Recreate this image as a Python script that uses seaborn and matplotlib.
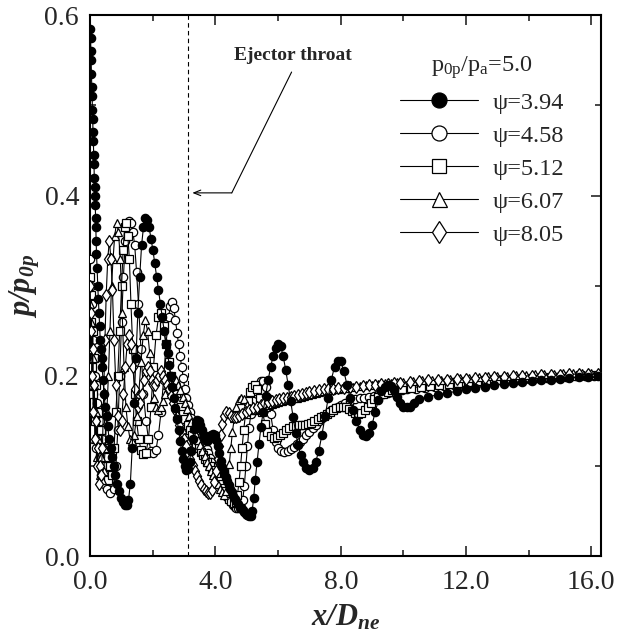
import matplotlib
matplotlib.use('Agg')
import matplotlib.pyplot as plt
from matplotlib.ticker import MultipleLocator, FormatStrFormatter
import seaborn as sns

# ---- datos (x/Dne, p/p0p) ----
labels = ['ψ=3.94', 'ψ=4.58', 'ψ=5.12', 'ψ=6.07', 'ψ=8.05']
legend_title = r'$\mathregular{p_{0p}/p_a}$=5.0'
throat_x = 3.13

x_394 = [0.00, 0.01, 0.02, 0.03, 0.04, 0.05, 0.06, 0.07, 0.08, 0.09, 0.10, 0.11, 0.12, 0.13, 0.14, 0.15,
         0.16, 0.17, 0.18, 0.19, 0.20, 0.22, 0.24, 0.26, 0.28, 0.30, 0.32, 0.34, 0.36, 0.38, 0.41, 0.44,
         0.48, 0.52, 0.56, 0.60, 0.65, 0.70, 0.75, 0.80, 0.86, 0.92, 0.98, 1.04, 1.10, 1.16, 1.22, 1.28,
         1.34, 1.40, 1.46, 1.52, 1.58, 1.64, 1.70, 1.76, 1.82, 1.88, 1.94, 2.00, 2.06, 2.12, 2.18, 2.24,
         2.30, 2.36, 2.42,
         2.47, 2.52, 2.57, 2.62, 2.67, 2.72, 2.77, 2.82, 2.87, 2.92, 2.97, 3.02, 3.07, 3.12, 3.17, 3.22,
         3.27, 3.32, 3.37, 3.42, 3.47, 3.52, 3.57, 3.62, 3.67, 3.72, 3.77, 3.82, 3.87, 3.92, 3.97, 4.02,
         4.07, 4.12, 4.17, 4.22, 4.27, 4.32, 4.37, 4.42, 4.47, 4.52, 4.57, 4.62, 4.67, 4.72, 4.77, 4.82,
         4.87, 4.92, 4.97, 5.02, 5.07, 5.12,
         5.17, 5.22, 5.27, 5.33, 5.39, 5.45, 5.52, 5.60, 5.68, 5.76, 5.84, 5.92, 6.00, 6.08, 6.16, 6.24,
         6.32, 6.40, 6.48, 6.56, 6.64, 6.72, 6.80, 6.90, 7.00, 7.10, 7.20, 7.30, 7.40, 7.50, 7.60, 7.70,
         7.80, 7.90, 8.00, 8.10, 8.20, 8.30, 8.40, 8.50, 8.60, 8.70, 8.80, 8.90, 9.00, 9.10, 9.20, 9.30,
         9.40, 9.50, 9.60, 9.70, 9.80, 9.90, 10.00, 10.10, 10.20, 10.35, 10.50,
         10.80, 11.10, 11.40, 11.70, 12.00, 12.30, 12.60, 12.90, 13.20, 13.50, 13.80, 14.10, 14.40, 14.70,
         15.00, 15.30, 15.60, 15.90, 16.20]
y_394 = [.585, .575, .56, .55, .535, .52, .51, .495, .485, .47, .46, .445, .435, .42, .41, .40,
         .39, .375, .365, .35, .335, .32, .30, .285, .27, .255, .24, .23, .22, .21, .195, .18,
         .165, .155, .145, .13, .12, .11, .10, .09, .08, .072, .065, .06, .057, .057, .062, .08,
         .12, .17, .22, .27, .31, .345, .365, .375, .373, .365, .352, .34, .325, .31, .295, .28,
         .265, .25, .235,
         .225, .212, .2, .188, .176, .164, .152, .14, .128, .117, .108, .1, .096, .097, .105, .117,
         .13, .141, .148, .151, .15, .146, .14, .134, .13, .128, .129, .132, .135, .136, .134, .129,
         .122, .114, .106, .099, .093, .088, .083, .079, .075, .071, .067, .064, .061, .058, .055, .053,
         .051, .049, .047, .046, .045, .045,
         .05, .065, .085, .105, .125, .143, .16, .178, .195, .21, .222, .231, .235, .233, .222, .207,
         .19, .172, .154, .137, .123, .112, .104, .098, .096, .098, .105, .117, .135, .155, .176, .196,
         .21, .217, .216, .205, .19, .175, .162, .15, .14, .134, .133, .137, .146, .16, .173, .183,
         .188, .19, .189, .184, .177, .17, .166, .165, .166, .17, .174,
         .177, .179, .181, .183, .185, .187, .188, .19, .191, .192, .193, .194, .195, .196,
         .197, .198, .199, .199, .2]

x_458 = [0.00, 0.02, 0.04, 0.06, 0.08, 0.10, 0.13, 0.16, 0.19, 0.22, 0.26, 0.30, 0.34, 0.38, 0.43, 0.48,
         0.53, 0.58, 0.64, 0.70, 0.76, 0.82, 0.88, 0.94, 1.00, 1.06, 1.12, 1.18, 1.24, 1.30, 1.36, 1.42,
         1.48, 1.54, 1.62, 1.70, 1.78, 1.86, 1.94, 2.02, 2.10, 2.18, 2.26, 2.34, 2.42, 2.50, 2.56, 2.62,
         2.67, 2.72, 2.77, 2.82, 2.87, 2.92, 2.97, 3.02,
         3.07, 3.12, 3.17, 3.22, 3.27, 3.32, 3.37, 3.42, 3.47, 3.52, 3.57, 3.62, 3.67, 3.72, 3.77, 3.82,
         3.87, 3.92, 3.97, 4.02, 4.07, 4.12, 4.17, 4.22, 4.27, 4.32, 4.37, 4.42, 4.47, 4.52, 4.57, 4.62,
         4.67, 4.72, 4.77, 4.82, 4.87, 4.92, 4.97, 5.02, 5.07, 5.13, 5.20, 5.28, 5.36, 5.44, 5.52, 5.60,
         5.68, 5.76, 5.84, 5.92, 6.00, 6.10, 6.20, 6.30, 6.40, 6.50, 6.60, 6.70, 6.80, 6.90, 7.00, 7.10,
         7.20, 7.30, 7.40, 7.50, 7.60, 7.70, 7.80, 7.90, 8.00, 8.15, 8.30, 8.45, 8.60, 8.75, 8.90, 9.05,
         9.20, 9.35, 9.50, 9.65, 9.80, 9.95, 10.10,
         10.40, 10.70, 11.00, 11.30, 11.60, 11.90, 12.20, 12.50, 12.80, 13.10, 13.40, 13.70, 14.00, 14.30,
         14.60, 14.90, 15.20, 15.50, 15.80, 16.10]
y_458 = [.33, .3, .22, .28, .18, .24, .15, .2, .12, .17, .1, .15, .09, .13, .08, .12,
         .075, .1, .07, .09, .075, .1, .14, .2, .26, .31, .35, .37, .372, .37, .36, .345,
         .315, .28, .23, .18, .15, .13, .117, .114, .118, .135, .16, .195, .235, .265, .278, .282,
         .275, .262, .248, .235, .222, .21, .198, .186,
         .176, .168, .16, .153, .146, .14, .135, .131, .128, .127, .127, .126, .123, .119, .114, .109,
         .104, .099, .094, .09, .086, .082, .078, .075, .072, .069, .066, .063, .061, .059, .057, .055,
         .054, .053, .053, .055, .062, .078, .1, .122, .142, .158, .172, .183, .19, .194, .194, .188,
         .175, .158, .14, .127, .12, .117, .116, .117, .119, .121, .124, .127, .13, .134, .138, .142,
         .146, .15, .153, .156, .159, .162, .164, .166, .168, .17, .172, .174, .175, .176, .177, .178,
         .179, .18, .181, .182, .183, .184, .185,
         .186, .187, .188, .189, .19, .191, .192, .193, .194, .195, .196, .196, .197, .198,
         .198, .199, .199, .2, .2, .2]

x_512 = [0.00, 0.02, 0.04, 0.06, 0.08, 0.10, 0.13, 0.16, 0.19, 0.22, 0.26, 0.30, 0.34, 0.38, 0.43, 0.48,
         0.53, 0.58, 0.64, 0.70, 0.76, 0.82, 0.88, 0.94, 1.00, 1.05, 1.10, 1.15, 1.20, 1.25, 1.30, 1.36,
         1.42, 1.48, 1.55, 1.62, 1.70, 1.78, 1.86, 1.94, 2.02, 2.10, 2.18, 2.26, 2.34, 2.42, 2.50, 2.58,
         2.66, 2.74, 2.82, 2.90, 2.97,
         3.04, 3.11, 3.18, 3.25, 3.32, 3.39, 3.46, 3.53, 3.60, 3.67, 3.74, 3.81, 3.88, 3.95, 4.02, 4.09,
         4.16, 4.23, 4.30, 4.37, 4.44, 4.51, 4.58, 4.64, 4.70, 4.75, 4.80, 4.85, 4.90, 4.96, 5.03, 5.10,
         5.18, 5.26, 5.34, 5.42, 5.50, 5.58, 5.66, 5.76, 5.86, 5.96, 6.06, 6.16, 6.26, 6.36, 6.46, 6.56,
         6.66, 6.76, 6.86, 6.96, 7.06, 7.16, 7.26, 7.36, 7.46, 7.56, 7.66, 7.76, 7.86, 7.96, 8.06, 8.16,
         8.26, 8.36, 8.46, 8.56, 8.66, 8.76, 8.86, 8.96, 9.06, 9.20, 9.35, 9.50, 9.65, 9.80, 9.95,
         10.25, 10.55, 10.85, 11.15, 11.45, 11.75, 12.05, 12.35, 12.65, 12.95, 13.25, 13.55, 13.85, 14.15,
         14.45, 14.75, 15.05, 15.35, 15.65, 15.95, 16.20]
y_512 = [.31, .26, .29, .21, .25, .18, .22, .15, .19, .13, .16, .11, .14, .1, .12, .09,
         .11, .085, .1, .09, .12, .16, .2, .25, .3, .34, .365, .37, .355, .33, .28, .23,
         .18, .15, .13, .118, .113, .115, .13, .165, .21, .245, .265, .27, .255, .235, .215, .2,
         .19, .18, .172, .165, .158,
         .152, .146, .14, .134, .129, .124, .12, .116, .112, .108, .104, .1, .096, .092, .088, .084,
         .08, .076, .072, .068, .064, .061, .059, .06, .068, .082, .1, .12, .14, .158, .172, .182,
         .188, .19, .186, .175, .16, .147, .138, .133, .131, .132, .134, .137, .14, .142, .144, .145,
         .146, .146, .146, .147, .148, .15, .152, .154, .156, .158, .16, .162, .164, .165, .166, .165,
         .163, .161, .159, .158, .159, .162, .166, .17, .174, .177, .18, .182, .184, .185, .186,
         .187, .188, .189, .19, .191, .192, .193, .194, .195, .196, .196, .197, .198, .198,
         .199, .199, .2, .2, .201, .201, .201]

x_607 = [0.00, 0.02, 0.04, 0.06, 0.08, 0.10, 0.13, 0.16, 0.19, 0.22, 0.26, 0.30, 0.34, 0.38, 0.43, 0.48,
         0.53, 0.58, 0.63, 0.68, 0.73, 0.78, 0.84, 0.90, 0.96, 1.02, 1.08, 1.14, 1.20, 1.27, 1.34, 1.41,
         1.48, 1.55, 1.62, 1.69, 1.76, 1.83, 1.90, 1.97, 2.04, 2.11, 2.18, 2.25, 2.32, 2.39, 2.46, 2.53,
         2.60, 2.67, 2.74, 2.81,
         2.88, 2.95, 3.02, 3.09, 3.16, 3.23, 3.30, 3.37, 3.44, 3.51, 3.58, 3.65, 3.72, 3.79, 3.86, 3.93,
         4.00, 4.07, 4.14, 4.21, 4.28, 4.34, 4.39, 4.44, 4.49, 4.54, 4.60, 4.67, 4.75, 4.83, 4.92, 5.01,
         5.10, 5.20, 5.30, 5.40, 5.50, 5.60, 5.70, 5.80, 5.90, 6.00, 6.12, 6.24, 6.36, 6.48, 6.60, 6.72,
         6.84, 6.96, 7.08, 7.20, 7.32, 7.44, 7.56, 7.68, 7.80, 7.92, 8.04, 8.20, 8.40, 8.60, 8.80, 9.00,
         9.20, 9.40, 9.60, 9.80, 10.00,
         10.30, 10.60, 10.90, 11.20, 11.50, 11.80, 12.10, 12.40, 12.70, 13.00, 13.30, 13.60, 13.90, 14.20,
         14.50, 14.80, 15.10, 15.40, 15.70, 16.00]
y_607 = [.28, .23, .26, .19, .22, .16, .19, .13, .16, .11, .13, .09, .11, .085, .095, .12,
         .16, .2, .25, .3, .33, .355, .37, .36, .33, .27, .21, .165, .145, .13, .128, .135,
         .155, .18, .215, .245, .262, .25, .225, .195, .175, .165, .162, .165, .172, .18, .19, .197,
         .2, .199, .195, .19,
         .184, .177, .17, .163, .156, .149, .142, .135, .129, .123, .117, .111, .105, .1, .095, .09,
         .085, .08, .075, .071, .068, .072, .085, .102, .12, .138, .153, .165, .173, .176, .174, .168,
         .164, .162, .162, .163, .165, .166, .168, .169, .17, .171, .172, .173, .174, .175, .176, .177,
         .178, .179, .18, .181, .182, .183, .184, .184, .185, .186, .187, .187, .188, .189, .19, .19,
         .191, .192, .192, .193, .193,
         .194, .195, .196, .196, .197, .198, .198, .199, .2, .2, .2, .201, .201, .202,
         .202, .202, .203, .203, .203, .203]

x_805 = [0.00, 0.02, 0.04, 0.06, 0.08, 0.10, 0.12, 0.15, 0.18, 0.21, 0.24, 0.27, 0.31, 0.35, 0.39, 0.43,
         0.47, 0.51, 0.56, 0.61, 0.66, 0.71, 0.76, 0.82, 0.88, 0.94, 1.00, 1.06, 1.12, 1.18, 1.24, 1.30,
         1.36, 1.42, 1.48, 1.54, 1.60, 1.66, 1.72, 1.78, 1.84, 1.90, 1.96, 2.02, 2.08, 2.14, 2.20, 2.26,
         2.32, 2.38, 2.44,
         2.50, 2.57, 2.64, 2.71, 2.78, 2.85, 2.92, 2.99, 3.06, 3.13, 3.20, 3.27, 3.34, 3.41, 3.48, 3.55,
         3.62, 3.69, 3.76, 3.83, 3.90, 3.96, 4.02, 4.07, 4.12, 4.17, 4.22, 4.28, 4.35, 4.42, 4.50, 4.58,
         4.66, 4.76, 4.86, 4.96, 5.08, 5.20, 5.32, 5.44, 5.56, 5.68, 5.80, 5.92, 6.04, 6.16, 6.28, 6.40,
         6.52, 6.64, 6.76, 6.88, 7.00, 7.15, 7.30, 7.45, 7.60, 7.75, 7.90, 8.10, 8.30, 8.50, 8.70, 8.90,
         9.10, 9.30, 9.50, 9.70, 9.90,
         10.20, 10.50, 10.80, 11.10, 11.40, 11.70, 12.00, 12.30, 12.60, 12.90, 13.20, 13.50, 13.80, 14.10,
         14.40, 14.70, 15.00, 15.30, 15.60, 15.90, 16.20]
y_805 = [.3, .25, .27, .2, .23, .16, .19, .13, .15, .1, .12, .08, .1, .09, .12, .18,
         .24, .29, .33, .35, .33, .295, .24, .19, .155, .14, .15, .18, .21, .235, .245, .235,
         .21, .185, .17, .165, .17, .18, .195, .205, .21, .205, .195, .19, .19, .195, .2, .205,
         .2, .195, .19,
         .185, .178, .17, .162, .154, .146, .138, .13, .122, .115, .108, .101, .095, .089, .084, .079,
         .075, .072, .07, .07, .073, .082, .095, .108, .122, .135, .147, .156, .16, .159, .156, .154,
         .154, .156, .158, .16, .162, .164, .166, .168, .17, .171, .172, .173, .174, .175, .176, .177,
         .178, .179, .18, .181, .182, .183, .184, .185, .185, .186, .187, .187, .188, .188, .189, .19,
         .19, .191, .191, .192, .192,
         .193, .194, .195, .195, .196, .197, .197, .198, .198, .199, .199, .2, .2, .2,
         .201, .201, .201, .202, .202, .202, .202]

# ---- estilo ----
sns.set_style('ticks')
plt.rcParams['font.family'] = ['Liberation Serif', 'DejaVu Serif']
plt.rcParams['mathtext.fontset'] = 'custom'
plt.rcParams['mathtext.rm'] = 'Liberation Serif'
plt.rcParams['mathtext.it'] = 'Liberation Serif:italic'
plt.rcParams['mathtext.bf'] = 'Liberation Serif:bold'

fig = plt.figure(figsize=(6.18, 6.35), dpi=100)
ax = fig.add_axes([0.146, 0.124, 0.826, 0.852])

series = [
    (x_394, y_394, 'o', 'black', 6.0, 5),
    (x_458, y_458, 'o', 'white', 6.0, 3),
    (x_512, y_512, 's', 'white', 5.5, 3),
    (x_607, y_607, '^', 'white', 6.0, 3),
    (x_805, y_805, 'd', 'white', 6.5, 3),
]
for (xs, ys, mk, fc, ms, z), lab in zip(series, labels):
    sns.lineplot(x=xs, y=ys, ax=ax, color='black', linewidth=0.8, marker=mk,
                 markersize=ms, markerfacecolor=fc, markeredgecolor='black',
                 markeredgewidth=0.9, sort=False, estimator=None, label=lab, zorder=z)

# garganta del eyector
ax.axvline(throat_x, color='black', linestyle=(0, (4, 3)), linewidth=0.8, zorder=1)
ax.plot([4.52, 6.43], [0.403, 0.537], color='black', linewidth=0.8)
ax.annotate('', xy=(3.26, 0.403), xytext=(4.52, 0.403),
            arrowprops=dict(arrowstyle='->,head_length=0.5,head_width=0.2', lw=0.8, color='black',
                            shrinkA=0, shrinkB=0))
ax.text(6.47, 0.555, 'Ejector throat', fontsize=14, fontweight='bold', ha='center', va='center')

ax.set_xlim(0, 16.3)
ax.set_ylim(0, 0.6)
ax.xaxis.set_major_locator(MultipleLocator(4))
ax.xaxis.set_minor_locator(MultipleLocator(2))
ax.yaxis.set_major_locator(MultipleLocator(0.2))
ax.yaxis.set_minor_locator(MultipleLocator(0.1))
ax.xaxis.set_major_formatter(FormatStrFormatter('%.1f'))
ax.yaxis.set_major_formatter(FormatStrFormatter('%.1f'))
ax.tick_params(which='both', direction='in', top=True, right=True, width=1.2, labelsize=20)
ax.tick_params(axis='x', pad=10)
ax.tick_params(axis='y', pad=8)
ax.tick_params(which='major', length=7)
ax.tick_params(which='minor', length=4.5)
for sp in ax.spines.values():
    sp.set_linewidth(1.5)
    sp.set_color('black')

ax.set_xlabel(r'$\mathregular{x/D_{ne}}$', fontsize=22, fontweight='bold', style='italic', labelpad=6)
ax.set_ylabel(r'$\mathregular{p/p_{0p}}$', fontsize=22, fontweight='bold', style='italic', labelpad=2)

leg = ax.legend(loc='upper left', bbox_to_anchor=(0.607, 0.928), frameon=False, title=legend_title,
                fontsize=17.5, title_fontsize=17.5, handlelength=3.2, handletextpad=0.6,
                labelspacing=0.45, markerscale=1.8, borderpad=0, borderaxespad=0)

fig.savefig('out.png', dpi=100)
